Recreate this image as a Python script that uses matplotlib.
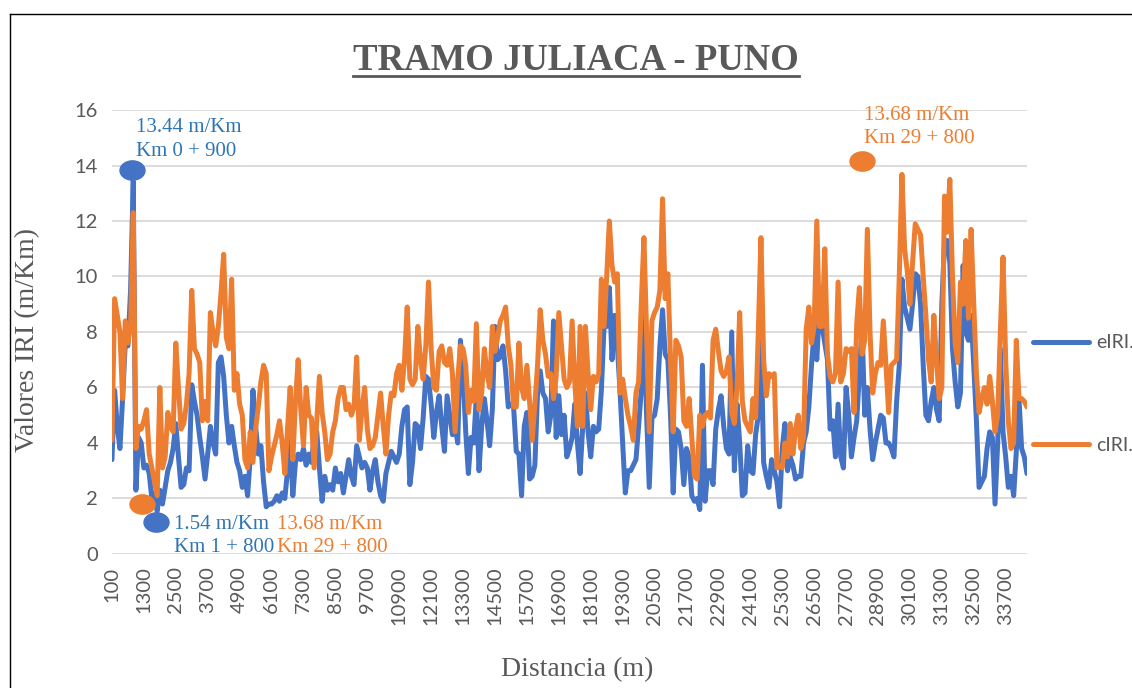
import numpy as np
import matplotlib.pyplot as plt
from matplotlib.path import Path
from matplotlib.transforms import Affine2D
from matplotlib.lines import Line2D

# Valores IRI cada 100 m
eiri = [
    3.4, 5.9, 4.6, 3.8, 5.6, 7.6, 7.5, 9.5, 13.44, 2.3, 4.2, 4.0, 3.1, 3.2, 2.9, 2.0, 2.2, 1.54, 2.3, 1.8,
    2.4, 3.0, 3.3, 3.8, 4.7, 3.5, 2.4, 2.5, 3.1, 3.0, 6.1, 5.5, 5.0, 4.2, 3.5, 2.7, 3.6, 4.6, 4.0, 3.6,
    6.9, 7.1,
    6.4, 5.0, 4.0, 4.6, 3.9, 3.3, 3.0, 2.4, 2.8, 2.1, 3.5, 5.9, 4.6, 3.6, 3.9, 2.6, 1.7, 1.8, 1.8, 1.9,
    2.1, 1.9, 2.2, 2.0, 3.0, 4.1, 2.1, 3.3, 3.6, 3.4, 3.8, 3.2, 3.6, 3.3, 4.2, 4.4, 3.1, 1.9, 2.8, 2.3,
    2.5, 2.3, 3.1, 2.6, 2.9,
    2.2, 2.8, 3.4, 2.8, 2.5, 3.9, 3.5, 3.1, 3.3, 3.1, 2.3, 3.0, 3.4, 2.6, 2.1, 1.9, 2.9, 3.3, 3.7, 3.5,
    3.3, 3.6, 4.6, 5.2, 5.3, 2.5, 3.3, 4.7, 4.6, 3.8, 4.9, 6.4, 6.3, 5.4, 4.2, 5.1, 5.7, 4.6, 3.7, 5.7,
    5.0, 4.3, 4.6, 4.0, 7.7,
    6.5, 4.4, 2.9, 4.2, 4.0, 5.7, 3.0, 4.6, 5.6, 4.8, 3.9, 5.2, 8.2, 7.0, 7.1, 7.5, 6.6, 5.3, 5.4, 5.3,
    3.7, 3.6, 2.1, 4.6, 5.1, 2.7, 2.8, 3.2, 5.8, 6.6, 5.8, 5.6, 4.4, 5.0, 8.4, 4.2, 5.7, 4.3, 5.0, 3.5,
    3.8, 4.2, 5.4, 4.0, 2.9,
    4.6, 5.8, 4.4, 3.5, 4.6, 4.4, 4.5, 5.9, 8.2, 8.2, 9.6, 7.0, 8.6, 7.5, 5.9, 4.0, 2.2, 3.0, 3.0, 3.2,
    3.4, 4.6, 5.9, 8.6, 5.0, 2.4, 4.9, 5.0, 5.6, 7.5, 8.8, 7.2, 7.0, 5.0, 2.2, 4.5, 4.4, 3.8, 2.5, 3.8,
    3.5, 2.1, 1.9, 2.0, 1.6,
    6.8, 1.9, 3.0, 3.0, 2.5, 4.5, 5.2, 5.7, 4.6, 3.8, 3.6, 8.0, 3.0, 5.4, 4.0, 2.1, 2.2, 3.9, 3.0, 2.9,
    4.3, 5.0, 8.0, 3.3, 2.8, 2.4, 3.4, 3.0, 2.6, 1.7, 3.8, 4.7, 3.0, 3.5, 3.2, 2.7, 2.8, 2.8, 4.0, 4.4,
    5.3, 6.8, 8.0, 7.0, 8.9,
    8.2, 7.6, 7.0, 4.5, 4.8, 3.5, 5.4, 3.5, 3.1, 6.0, 5.0, 3.5, 4.2, 4.8, 6.5, 8.2, 5.0, 6.0, 4.5, 3.4,
    4.0, 4.5, 5.0, 4.9, 4.0, 4.0, 3.8, 3.5, 5.5, 6.8, 9.9, 8.9, 8.5, 8.1, 9.0, 10.1, 10.0, 9.0, 6.8, 5.0,
    4.8, 5.5, 6.0, 5.2, 4.8,
    9.0, 11.2, 11.3, 10.5, 7.4, 6.2, 5.3, 5.8, 10.4, 8.0, 7.7, 8.6, 6.8, 4.8, 2.4, 2.6, 2.8, 3.8, 4.4, 4.2,
    1.8, 4.0, 7.4, 4.4, 3.5, 2.4, 2.8, 2.1, 3.7, 5.6, 3.8, 3.5, 2.9,
]

ciri = [
    4.1, 9.2, 8.6, 8.0, 5.6, 8.4, 7.6, 8.2, 12.3, 3.8, 4.6, 4.5, 4.8, 5.2, 3.6, 3.1, 2.6, 2.1, 6.0, 3.1,
    3.5, 5.1, 4.6, 4.4, 7.6, 6.0, 4.5, 4.7, 5.4, 6.5, 9.5, 7.4, 7.2, 6.9, 4.8, 5.5, 4.8, 8.7, 8.0, 7.5,
    8.2, 9.4,
    10.8, 7.8, 7.4, 9.9, 5.9, 6.5, 5.4, 5.0, 3.4, 3.1, 4.4, 3.3, 4.5, 5.3, 6.2, 6.8, 6.5, 3.0, 3.5, 3.9,
    4.3, 4.8, 4.0, 2.9, 4.5, 6.0, 3.4, 5.5, 7.0, 5.2, 3.9, 6.0, 5.0, 4.9, 3.1, 4.8, 6.4, 5.1, 4.4, 3.4,
    3.6, 4.4, 4.8, 5.6, 6.0,
    6.0, 5.2, 5.4, 5.0, 5.3, 7.1, 4.1, 5.2, 6.0, 4.5, 3.8, 3.9, 4.2, 5.0, 5.8, 4.6, 3.6, 5.0, 5.8, 5.7,
    6.5, 6.8, 5.9, 7.0, 8.9, 6.3, 6.1, 6.3, 8.2, 7.0, 6.3, 7.5, 9.8, 7.4, 6.0, 5.9, 7.3, 7.5, 6.9, 6.8,
    7.4, 6.5, 4.4, 6.3, 7.5,
    7.4, 6.8, 5.1, 5.9, 5.5, 8.3, 5.2, 5.8, 7.4, 6.5, 6.0, 8.2, 7.3, 7.8, 8.4, 8.6, 8.9, 7.5, 6.8, 5.3,
    5.3, 7.6, 6.0, 5.6, 6.8, 5.5, 4.1, 5.4, 6.8, 8.8, 7.7, 7.2, 6.4, 6.5, 5.6, 6.4, 8.7, 7.5, 6.3, 6.0,
    6.2, 8.4, 6.2, 4.6, 8.2,
    4.6, 8.2, 6.5, 5.2, 6.4, 6.2, 6.5, 9.9, 8.2, 10.0, 12.0, 10.4, 9.8, 10.1, 5.8, 6.3, 5.6, 5.0, 4.6, 4.1,
    5.8, 6.2, 9.0, 11.4, 8.0, 4.4, 8.4, 8.7, 8.9, 9.5, 12.8, 9.2, 10.1, 7.0, 4.4, 7.7, 7.5, 7.1, 4.8, 4.6,
    5.6, 4.2, 2.8, 2.7, 5.0,
    4.6, 5.0, 5.1, 4.9, 7.7, 8.1, 7.3, 6.6, 6.4, 6.6, 7.1, 5.1, 4.7, 6.0, 8.7, 5.5, 4.8, 4.6, 4.4, 5.6,
    4.9, 8.0, 11.4, 7.0, 5.7, 6.5, 6.4, 6.5, 3.1, 3.2, 3.1, 4.0, 3.5, 4.7, 3.6, 4.5, 5.0, 3.8, 4.2, 8.1,
    8.9, 7.6, 8.2, 12.0, 8.2,
    8.2, 11.0, 7.2, 6.4, 6.2, 6.5, 9.8, 6.2, 6.5, 7.4, 7.3, 7.4, 5.1, 8.3, 9.6, 7.2, 7.7, 11.7, 8.0, 5.8,
    6.5, 6.9, 6.8, 8.4, 6.8, 5.1, 6.8, 6.9, 7.0, 10.0, 13.68, 11.0, 10.2, 9.0, 10.5, 11.9, 11.7, 11.5, 10.0, 8.6,
    7.0, 6.2, 8.6, 7.0, 5.6,
    6.0, 12.9, 11.6, 13.5, 10.0, 7.6, 6.9, 9.8, 9.0, 11.3, 8.5, 11.7, 9.0, 6.5, 5.1, 5.6, 6.0, 5.4, 6.4, 5.5,
    4.4, 5.0, 8.0, 10.7, 7.0, 4.8, 3.8, 4.0, 7.7, 5.6, 5.6, 5.5, 5.3,
]

distancia = np.arange(1, len(eiri) + 1) * 100
tick_labels = [str(d) for d in range(100, 33701, 1200)]

# marcadores y etiquetas de extremos
mark_e_x = [850, 1750]
mark_e_y = [13.85, 1.15]
mark_c_x = [1230, 28300]
mark_c_y = [1.8, 14.15]
notas = [
    ("13.44 m/Km\nKm 0 + 900", 1000, 15.7, '#2E75B6'),
    ("1.54 m/Km\nKm 1 + 800", 2430, 1.42, '#2E75B6'),
    ("13.68 m/Km\nKm 29 + 800", 6300, 1.42, '#ED7D31'),
    ("13.68 m/Km\nKm 29 + 800", 28370, 16.15, '#ED7D31'),
]

azul = '#4472C4'
naranja = '#ED7D31'
gris = '#595959'
sans = ['Lato', 'DejaVu Sans']
serif = ['Liberation Serif', 'DejaVu Serif']

fig = plt.figure(figsize=(11.32, 6.88), dpi=100)
ax = fig.add_axes([0.0989, 0.1948, 0.8083, 0.6453])

ax.plot(distancia, eiri, color=azul, lw=3.6, solid_joinstyle='round', solid_capstyle='round', label='eIRI.')
ax.plot(distancia, ciri, color=naranja, lw=3.6, solid_joinstyle='round', solid_capstyle='round', label='cIRI.')

elipse = Path.unit_circle().transformed(Affine2D().scale(1.3, 1.0))
ax.plot(mark_e_x, mark_e_y, ls='none', marker=elipse, markersize=18, color=azul, clip_on=False)
ax.plot(mark_c_x, mark_c_y, ls='none', marker=elipse, markersize=18, color=naranja, clip_on=False)

for txt, x, y, c in notas:
    ax.text(x, y, txt, color=c, family=serif, fontsize=15, ha='left', va='top',
            linespacing=1.3, clip_on=False)

ax.set_xlim(100, distancia[-1])
ax.set_ylim(0, 16)
ax.set_yticks(range(0, 17, 2))
ax.set_xticks([int(t) for t in tick_labels])
ax.set_xticklabels(tick_labels, rotation=90)
ax.tick_params(length=0, labelcolor=gris, labelsize=14.5)
ax.tick_params(axis='y', pad=10)
ax.tick_params(axis='x', pad=9)
for lab in ax.get_xticklabels() + ax.get_yticklabels():
    lab.set_family(sans)
ax.yaxis.grid(True, color='#D9D9D9', lw=1.3)
ax.set_axisbelow(True)
for s in ax.spines.values():
    s.set_visible(False)

leg = ax.legend(loc='center left', bbox_to_anchor=(1.0066, 0.36), frameon=False,
                labelspacing=4.4, handlelength=2.9, handletextpad=0.35,
                borderpad=0, borderaxespad=0, prop={'family': sans, 'size': 14})
for t in leg.get_texts():
    t.set_color(gris)

titulo = fig.text(0.509, 1 - 70 / 688, 'TRAMO JULIACA - PUNO', ha='center', va='baseline',
                  family=serif, fontsize=26.5, fontweight='bold', color=gris)
fig.canvas.draw()
bb = titulo.get_window_extent().transformed(fig.transFigure.inverted())
fig.add_artist(Line2D([bb.x0, bb.x1], [1 - 76 / 688] * 2, transform=fig.transFigure,
                      color=gris, lw=2))

fig.text(28 / 1132, 1 - 340 / 688, 'Valores IRI (m/Km)', rotation=90, ha='center', va='center',
         family=serif, fontsize=20, color=gris)
fig.text(577 / 1132, 1 - 670 / 688, 'Distancia (m)', ha='center', va='center',
         family=serif, fontsize=20, color=gris)

# borde del area del grafico
top = 1 - 14 / 688
fig.add_artist(Line2D([10 / 1132, 10 / 1132], [0, top], transform=fig.transFigure, color='black', lw=1))
fig.add_artist(Line2D([10 / 1132, 1], [top, top], transform=fig.transFigure, color='black', lw=1))

fig.savefig('out.png', dpi=100)
